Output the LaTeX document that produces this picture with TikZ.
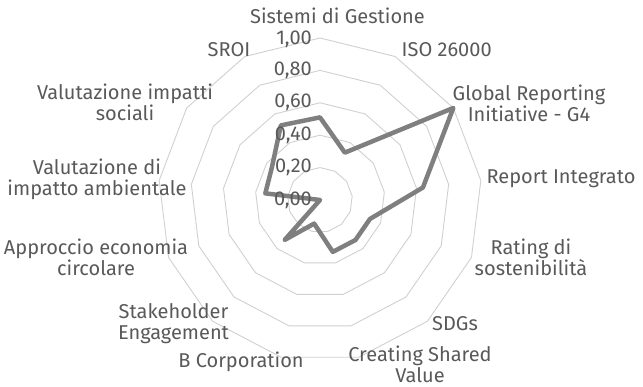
\documentclass[tikz,border=0pt]{standalone}
\usepackage{fontspec}
\setmainfont{Fira Sans}
\definecolor{labelgray}{HTML}{595959}
\definecolor{ringgray}{HTML}{D0D0D0}
\definecolor{seriesgray}{HTML}{7F7F7F}
\tikzset{
  ring/.style={draw=ringgray, line width=0.9pt},
  series/.style={draw=seriesgray, line width=4.5pt, line join=round},
  axislabel/.style={text=labelgray, font=\fontsize{20}{21}\selectfont, align=center, inner sep=0pt},
  tick/.style={axislabel, anchor=east}
}
\begin{document}
\begin{tikzpicture}[x=1pt,y=1pt]
\useasboundingbox (0,0) rectangle (643,387);
\coordinate (C) at (320,187);
% rings, 13 sides
\foreach \k in {1,...,5}
  \draw[ring] ([shift={(90:32.4*\k)}]C) \foreach \j in {1,...,12} { -- ([shift={(90-\j*360/13:32.4*\k)}]C) } -- cycle;
% series
\foreach \v [count=\i from 0] in {0.51,0.33,1.0,0.64,0.33,0.33,0.33,0.15,0.33,0,0.34,0.36,0.52}
  \coordinate (d\i) at ([shift={(90-\i*360/13:162*\v)}]C);
\draw[series] (d0) -- (d1) -- (d2) -- (d3) -- (d4) -- (d5) -- (d6) -- (d7) -- (d8) -- (d9) -- (d10) -- (d11) -- (d12) -- cycle;
% scale values
\foreach \k/\t in {0/00,1/20,2/40,3/60,4/80}
  \node[tick] (t\k) at ([shift={(-8,32.4*\k)}]C) {0,\t};
\node[tick] (t5) at ([shift={(-8,161)}]C) {1,00};
% axis labels
\node[axislabel] (sis) at (337.5,371) {Sistemi di Gestione};
\node[axislabel] (iso) at (446.7,337) {ISO 26000};
\node[axislabel] (gri) at (529,284) {Global Reporting\\Initiative - G4};
\node[axislabel] (rep) at (561,208.7) {Report Integrato};
\node[axislabel] (rat) at (531,129.5) {Rating di\\sostenibilità};
\node[axislabel] (sdg) at (455,63.7) {SDGs};
\node[axislabel] (csv) at (420,23) {Creating Shared\\Value};
\node[axislabel] (bcorp) at (241,25.3) {B Corporation};
\node[axislabel] (stk) at (173.5,63) {Stakeholder\\Engagement};
\node[axislabel] (eco) at (96,129.5) {Approccio economia\\circolare};
\node[axislabel] (amb) at (97,208) {Valutazione di\\impatto ambientale};
\node[axislabel] (soc) at (125,284.5) {Valutazione impatti\\sociali};
\node[axislabel] (sroi) at (229,337) {SROI};
\end{tikzpicture}
\end{document}
